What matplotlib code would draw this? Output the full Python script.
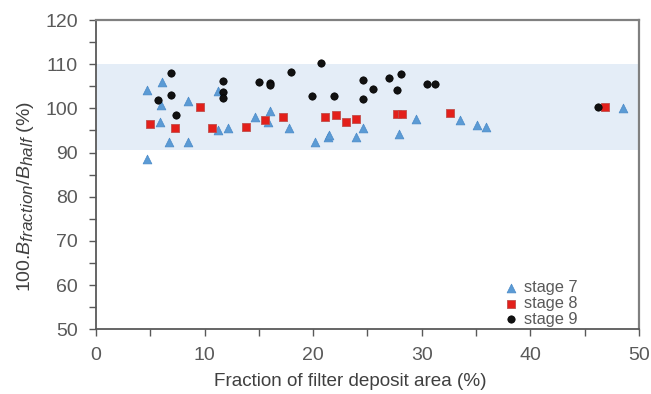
import matplotlib.pyplot as plt
import matplotlib._mathtext as mt
from matplotlib.ticker import MultipleLocator

plt.rcParams['font.family'] = ['Liberation Sans', 'DejaVu Sans']
plt.rcParams['mathtext.fontset'] = 'custom'
plt.rcParams['mathtext.rm'] = 'Liberation Sans'
plt.rcParams['mathtext.it'] = 'Liberation Sans:italic'
mt.SHRINK_FACTOR = 0.88  # subscripts in the original are nearly full size

# stage 7 (triangles)
s7_x = [4.7, 4.7, 6.1, 6.0, 5.9, 6.7, 8.5, 8.5, 11.2, 11.2, 12.2, 14.6, 16.0, 15.8,
        17.8, 20.2, 21.4, 21.5, 23.9, 24.6, 27.9, 29.5, 33.5, 35.1, 35.9, 48.5]
s7_y = [104.2, 88.6, 106.0, 100.7, 96.9, 92.5, 101.6, 92.5, 103.9, 95.2, 95.5, 98.0, 99.4, 97.0,
        95.5, 92.5, 93.6, 94.0, 93.5, 95.5, 94.3, 97.7, 97.3, 96.3, 95.9, 100.1]

# stage 8 (squares)
s8_x = [5.0, 7.3, 9.6, 10.7, 13.8, 15.6, 17.2, 21.1, 22.1, 23.0, 23.9, 27.7, 28.2, 32.6, 46.9]
s8_y = [96.4, 95.5, 100.4, 95.5, 95.9, 97.4, 98.1, 98.1, 98.4, 97.0, 97.5, 98.7, 98.7, 98.9, 100.4]

# stage 9 (circles)
s9_x = [6.9, 5.7, 6.9, 7.4, 11.7, 11.7, 11.7, 15.0, 16.0, 16.0, 18.0, 19.9, 20.7, 21.9,
        24.6, 24.6, 25.5, 27.0, 28.1, 27.7, 30.5, 31.2, 46.2]
s9_y = [108.0, 101.9, 103.0, 98.4, 106.3, 103.7, 102.4, 105.9, 105.7, 105.2, 108.3, 102.7, 110.3, 102.7,
        106.5, 102.2, 104.5, 106.8, 107.7, 104.2, 105.6, 105.6, 100.4]

band = (90.5, 110)

fig = plt.figure(figsize=(6.51, 3.94), dpi=100)
ax = fig.add_axes([0.1475, 0.1645, 0.834, 0.7845])

ax.axhspan(band[0], band[1], color='#e4edf7', zorder=0, lw=0)

ax.scatter(s7_x, s7_y, marker='^', s=40, color='#5b9bd5', edgecolors='#4a8ac8', linewidths=0.5, label='stage 7', zorder=3)
ax.scatter(s8_x, s8_y, marker='s', s=32, color='#e3201b', edgecolors='#c0504d', linewidths=0.6, label='stage 8', zorder=3)
ax.scatter(s9_x, s9_y, marker='o', s=28, color='#111111', edgecolors='#000000', linewidths=0.5, label='stage 9', zorder=3)

ax.set_xlim(0, 50)
ax.set_ylim(50, 120)
ax.xaxis.set_major_locator(MultipleLocator(10))
ax.xaxis.set_minor_locator(MultipleLocator(5))
ax.yaxis.set_major_locator(MultipleLocator(10))
ax.yaxis.set_minor_locator(MultipleLocator(5))

for side in ['left', 'bottom']:
    ax.spines[side].set_color('#595959')
    ax.spines[side].set_linewidth(1.3)
for side in ['top', 'right']:
    ax.spines[side].set_color('#808080')
    ax.spines[side].set_linewidth(1.6)

ax.tick_params(which='both', direction='out', color='#595959', width=1.0, top=False, right=False)
ax.tick_params(which='major', length=5, labelsize=14, labelcolor='#595959', pad=8)
ax.tick_params(which='minor', length=5)

ax.set_xlabel('Fraction of filter deposit area (%)', fontsize=13.6, color='#404040', va='center')
ax.set_ylabel(r'100.$\mathit{B}_{\mathit{fraction}}$/$\mathit{B}_{\mathit{half}}$ (%)',
              fontsize=14, color='#404040', va='center')
ax.xaxis.set_label_coords(0.468, -0.17)
ax.yaxis.set_label_coords(-0.129, 0.43)

ax.legend(loc='upper left', bbox_to_anchor=(0.76, 0.31), bbox_transform=fig.transFigure,
          frameon=False, fontsize=11.8, labelcolor='#595959', handletextpad=0.3,
          labelspacing=0.05, borderpad=0, handlelength=1.0)

fig.savefig('out.png', dpi=100)
